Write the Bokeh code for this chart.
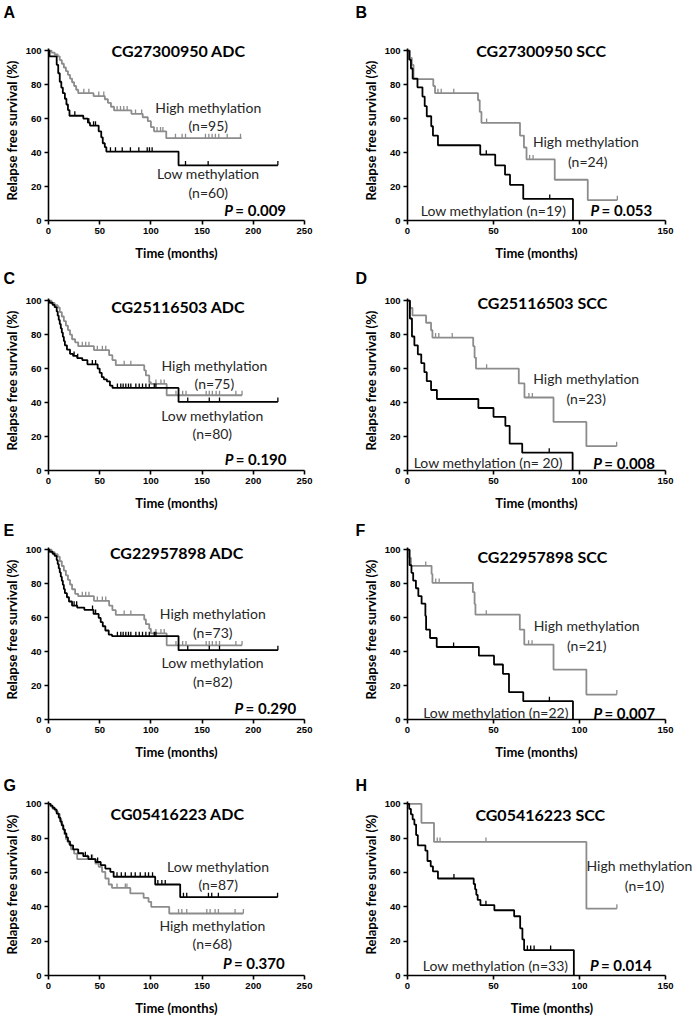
from bokeh.plotting import figure
from bokeh.models import Range1d, Label, FixedTicker
from bokeh.layouts import column, row
from bokeh.embed import file_html
from bokeh.resources import INLINE

# ---------------- data ----------------
# Panel A  CG27300950 ADC
a_low_t = [1, 8, 9.5, 11, 12.5, 14, 16, 17.5, 19, 20.5, 34, 38.5, 40.5, 49, 51.5, 53, 55, 56.5, 127]
a_low_s = [96.7, 91.7, 86.7, 81.7, 78.3, 75, 71.7, 68.3, 65, 61.7, 60, 57.6, 55.9, 52.5, 49, 45.5, 43.2, 40.6, 32.5]
a_low_c = [25.7, 39.4, 44, 45.9, 60.5, 65.4, 72, 80, 88.2, 96.4, 98.6, 101.2, 133.8, 155.9, 224]
a_low_end = 224
a_high_t = [3, 6, 9, 11, 13, 15, 17, 19, 21, 23, 25, 27, 29, 44, 55, 58, 61, 64, 81, 92, 97, 100, 103, 115]
a_high_s = [98.9, 97.8, 96.7, 94.5, 92.3, 90.1, 88, 85.8, 83.6, 81.4, 79.2, 77, 75, 73.3, 71.4, 69.3, 67, 64.8, 62.8, 60.8, 58.5, 55, 52.5, 48.5]
a_high_c = [34.5, 39.4, 49.1, 54, 67, 70.3, 73.5, 76.8, 85, 91, 106, 109.4, 111.7, 124, 130.5, 133.8, 153.3, 156.6, 159.8, 163, 166.3, 174.5, 187.5]
a_high_end = 188.5

# Panel B  CG27300950 SCC
b_low_t = [1, 2, 3, 5.8, 8.7, 10, 11.2, 13.8, 14.8, 17.7, 42.3, 51, 56.7, 59.6, 67.3, 96.2]
b_low_s = [94.7, 89.5, 83.5, 78.4, 73, 67.3, 61.4, 55.5, 50, 44.3, 38.8, 32.5, 27, 21, 12.7, 0]
b_low_c = [45.8, 82.7]
b_low_end = 96.2
b_high_t = [1.5, 2.5, 3.5, 15, 16, 41, 42, 43, 65.4, 67.7, 69.2, 85.6, 104.8]
b_high_s = [95.8, 91.7, 83.3, 79.2, 75, 70.8, 64, 57.5, 50, 43, 36, 24, 12]
b_high_c = [17.7, 19.6, 26.9, 46, 71, 73, 122]
b_high_end = 122

# Panel C  CG25116503 ADC
c_low_t = [1, 4, 6, 8, 9, 10, 11, 12, 13, 14, 15, 16, 18, 21, 24, 28, 33, 38, 48, 50, 52, 54, 57, 60, 62.5, 127]
c_low_s = [98.8, 97.5, 96.2, 93.7, 91.2, 88.7, 86.2, 83.7, 81.2, 78.7, 76.2, 73.7, 71.2, 68.7, 67.5, 66.2, 65, 62.5, 60, 57.5, 55, 53.7, 52.5, 50, 48.6, 40.4]
c_low_c = [25, 28.5, 42.8, 46, 67.3, 70.6, 72.9, 75.5, 78.1, 80.4, 85.3, 88.6, 91.8, 95.1, 98.4, 103.3, 104.9, 136, 157, 167, 224]
c_low_end = 224
c_high_t = [3, 6, 9, 11, 13, 15, 17, 19, 21, 23, 26, 29, 44.4, 59.2, 62.4, 65.7, 93.5, 95.1, 98.4, 100, 115.4]
c_high_s = [98.7, 97.3, 96, 93.3, 90.7, 88, 85.3, 82.7, 80, 77.3, 75.5, 73.2, 70.9, 67.9, 65, 62, 59, 56, 52, 51, 44.3]
c_high_c = [33, 36.3, 39.5, 47.7, 52.6, 55.9, 73.9, 80.4, 104.9, 109.8, 113, 124.5, 131, 134.3, 154, 157, 160, 163.7, 167, 183, 189]
c_high_end = 189

# Panel D  CG25116503 SCC
d_low_t = [1.4, 2.6, 4, 6, 8, 9.8, 11.2, 13.7, 17.1, 41.2, 50, 56.9, 59.4, 66.7, 96]
d_low_s = [89.5, 78.9, 73.7, 68.4, 63.2, 57.9, 52.6, 47.4, 42.1, 36.8, 31.6, 26.3, 15.8, 10.5, 0]
d_low_c = [82.4]
d_low_end = 96
d_high_t = [1.5, 2.9, 10.8, 13.7, 14.5, 38.2, 39, 39.8, 64.7, 68, 84.9, 104]
d_high_s = [95.7, 91.3, 87, 82.6, 78.3, 73.2, 66.5, 60, 51.3, 43, 28.6, 14.3]
d_high_c = [16.3, 18.2, 26, 46, 70.6, 72.6, 121.6]
d_high_end = 121.6

# Panel E  CG22957898 ADC
e_low_t = [1, 4, 6, 8, 9, 10, 11, 12, 13, 14, 15, 16, 18, 20, 23, 28, 35, 44, 49, 51, 53, 55.5, 58.8, 62, 127]
e_low_s = [98.8, 97.6, 96.3, 93.9, 91.5, 89, 86.6, 84.1, 81.7, 79.3, 76.8, 74.4, 72, 69.5, 67.1, 65.9, 64.6, 62.2, 59.8, 57.3, 54.9, 52.4, 50, 49.1, 40.8]
e_low_c = [25, 27.5, 43, 46, 67.3, 70.6, 72.9, 75.5, 78.1, 80.4, 85.3, 88.6, 91.8, 95.1, 98.4, 103.3, 104.9, 136, 157, 167, 224]
e_low_end = 224
e_high_t = [3, 6, 9, 11, 13, 15, 17, 19, 21, 23, 26, 29, 44.4, 59.2, 62.4, 65.7, 93.5, 95.1, 98.4, 100, 115.4]
e_high_s = [98.6, 97.3, 95.9, 93.2, 90.4, 87.7, 84.9, 82.2, 79.5, 76.7, 74, 72.6, 69.9, 67.1, 64.4, 61.6, 58.9, 56.2, 53.4, 50.7, 43.7]
e_high_c = [33, 36.3, 39.5, 47.7, 52.6, 55.9, 73.9, 80.4, 104.9, 109.8, 113, 124.5, 131, 134.3, 154, 157, 160, 163.7, 167, 183, 189]
e_high_end = 189

# Panel F  CG22957898 SCC
f_low_t = [1.2, 2.3, 3.3, 4.9, 6.3, 8.2, 10.4, 10.8, 13.1, 17, 41.5, 50.3, 55.5, 59, 67.3, 96.2]
f_low_s = [90.9, 86.4, 81.8, 77.3, 72.7, 68.2, 61, 52.9, 48, 42.7, 37.6, 32.4, 26.9, 16.1, 10.8, 0]
f_low_c = [26.8, 82.5]
f_low_end = 96.2
f_high_t = [1, 2, 14, 14.5, 38, 39, 39.5, 65.3, 67.9, 84.9, 104]
f_high_s = [95.2, 90.5, 85.7, 80.5, 75, 68, 61.8, 52.9, 44.1, 29.4, 14.7]
f_high_c = [10.6, 16.4, 18.4, 45.8, 70.4, 72.4, 121.7]
f_high_end = 121.7

# Panel G  CG05416223 ADC
g_low_t = [2, 4, 6, 8, 10, 11.5, 13, 14.5, 16, 17.5, 19, 21, 24, 29, 34, 39, 46, 51, 55.5, 60.4, 63.6, 104.2, 128.6]
g_low_s = [98.9, 97.7, 96.6, 94.3, 92, 89.7, 87.4, 85, 82.7, 80.4, 78.1, 75.8, 73.5, 71.2, 69.5, 67.8, 66.1, 64.3, 62.3, 60.4, 57.5, 53, 45.6]
g_low_c = [36, 42, 48, 66.9, 71.1, 75, 80.8, 84.7, 89.6, 94.5, 97.7, 101.6, 106.8, 110.7, 114, 131.8, 135, 156.2, 159.4, 165.9, 223.7]
g_low_end = 223.7
g_high_t = [2, 4, 7, 9, 11, 12.5, 14, 15.5, 17, 18.5, 20, 22, 25, 28, 45.8, 49, 52.3, 55.5, 58.8, 62, 79.9, 92.9, 97.7, 100.3, 117.9]
g_high_s = [98.5, 97.1, 95.6, 94.1, 91.2, 88.2, 85.3, 82.4, 79.4, 77.9, 76.5, 73.5, 71, 67.8, 65.2, 63.3, 60.4, 56.5, 53, 51, 47.8, 45.2, 42.9, 40, 36.1]
g_high_c = [38, 43, 66.9, 75, 76.6, 127, 130.2, 135, 154.6, 157.8, 162.7, 165.9, 182.2, 190.3]
g_high_end = 190.3

# Panel H  CG05416223 SCC
h_low_t = [1, 2, 3, 4, 5, 6, 10.4, 11.6, 13.5, 14.8, 17.7, 38.5, 39.3, 40, 40.8, 42.4, 50.5, 62, 65.5, 66.8, 67.8, 96.7]
h_low_s = [97, 93.9, 90.9, 87.9, 81.8, 75.8, 72.7, 66.7, 63.6, 60.6, 56.5, 53.3, 50.2, 47, 44, 41, 38, 34.5, 27.5, 21, 14.8, 0]
h_low_c = [27, 45.6, 69.7, 71.6, 73.6, 83.2]
h_low_end = 96.7
h_high_t = [8.1, 15.4, 104]
h_high_s = [88.9, 77.8, 38.9]
h_high_c = [17.3, 18.9, 45.6, 121.7]
h_high_end = 121.7

letters = ["A", "B", "C", "D", "E", "F", "G", "H"]
titles = ["CG27300950 ADC", "CG27300950 SCC", "CG25116503 ADC", "CG25116503 SCC",
          "CG22957898 ADC", "CG22957898 SCC", "CG05416223 ADC", "CG05416223 SCC"]
p_values = ["= 0.009", "= 0.053", "= 0.190", "= 0.008", "= 0.290", "= 0.007", "= 0.370", "= 0.014"]
ticks_adc = [0, 50, 100, 150, 200, 250]
ticks_scc = [0, 50, 100, 150]
ticks_y = [0, 20, 40, 60, 80, 100]

BLACK = "#000000"
GRAY = "#8c8c8c"
TXT = "#262626"
PAGE_W = 698


def km_xy(times, levels, end):
    xs = [0] + list(times)
    ys = [100] + list(levels)
    if end > xs[-1]:
        xs.append(end)
        ys.append(ys[-1])
    return xs, ys


def level_at(times, levels, t):
    s = 100
    for ti, si in zip(times, levels):
        if ti <= t:
            s = si
    return s


def make_fig(xmax, xview, xticks, w, h, bl, br, bt, bb):
    p = figure(width=w, height=h, x_range=Range1d(0, xview), y_range=Range1d(0, 106),
               output_backend="svg", toolbar_location=None, title=None,
               min_border_left=bl, min_border_right=br, min_border_top=bt, min_border_bottom=bb)
    p.outline_line_color = None
    p.grid.visible = False
    p.background_fill_color = "white"
    p.border_fill_color = "white"
    p.xaxis.ticker = FixedTicker(ticks=xticks)
    p.yaxis.ticker = FixedTicker(ticks=ticks_y)
    p.xaxis.bounds = (0, xmax)
    p.yaxis.bounds = (0, 101.5)
    p.xaxis.axis_label = "Time (months)"
    p.yaxis.axis_label = "Relapse free survival (%)"
    for ax in p.axis:
        ax.axis_line_color = "black"
        ax.axis_line_width = 1.6
        ax.major_tick_line_color = "black"
        ax.major_tick_line_width = 1.6
        ax.major_tick_out = 4
        ax.major_tick_in = 0
        ax.minor_tick_line_color = None
        ax.major_label_text_font = "Liberation Sans"
        ax.major_label_text_font_style = "bold"
        ax.major_label_text_font_size = "9.5px"
        ax.major_label_text_color = "black"
        ax.major_label_standoff = 3
        ax.axis_label_text_font = "Lato"
        ax.axis_label_text_font_style = "bold"
        ax.axis_label_text_font_size = "13px"
        ax.axis_label_text_color = "black"
    p.xaxis.axis_label_standoff = 8
    p.yaxis.axis_label_standoff = 3
    return p


def make_strip(h, left_letter, right_letter, base_y):
    s = figure(width=PAGE_W, height=h, x_range=Range1d(0, PAGE_W), y_range=Range1d(0, h),
               output_backend="svg", toolbar_location=None, title=None,
               x_axis_location=None, y_axis_location=None,
               min_border_left=0, min_border_right=0, min_border_top=0, min_border_bottom=0)
    s.outline_line_color = None
    s.grid.visible = False
    for txt, x in ((left_letter, 3), (right_letter, 355)):
        s.add_layout(Label(x=x, y=base_y, text=txt, text_font="Liberation Sans",
                           text_font_size="16px", text_font_style="bold",
                           text_align="left", text_baseline="alphabetic", text_color="black"))
    return s


def draw_curve(p, t, s, c, end, color):
    xs, ys = km_xy(t, s, end)
    p.step(xs, ys, mode="after", line_color=color, line_width=1.8)
    lv = [level_at(t, s, ci) for ci in c]
    p.segment(x0=c, y0=lv, x1=c, y1=[v + 2.6 for v in lv], line_color=color, line_width=1.3)


def lab(p, x, y, text, size="14px", style="normal", align="center", base="middle",
        font="Lato", color=TXT, xoff=0):
    p.add_layout(Label(x=x, y=y, text=text, text_font=font, text_font_size=size,
                       text_font_style=style, text_align=align, text_baseline=base,
                       text_color=color, x_offset=xoff))


curves = [
    (a_low_t, a_low_s, a_low_c, a_low_end, a_high_t, a_high_s, a_high_c, a_high_end),
    (b_low_t, b_low_s, b_low_c, b_low_end, b_high_t, b_high_s, b_high_c, b_high_end),
    (c_low_t, c_low_s, c_low_c, c_low_end, c_high_t, c_high_s, c_high_c, c_high_end),
    (d_low_t, d_low_s, d_low_c, d_low_end, d_high_t, d_high_s, d_high_c, d_high_end),
    (e_low_t, e_low_s, e_low_c, e_low_end, e_high_t, e_high_s, e_high_c, e_high_end),
    (f_low_t, f_low_s, f_low_c, f_low_end, f_high_t, f_high_s, f_high_c, f_high_end),
    (g_low_t, g_low_s, g_low_c, g_low_end, g_high_t, g_high_s, g_high_c, g_high_end),
    (h_low_t, h_low_s, h_low_c, h_low_end, h_high_t, h_high_s, h_high_c, h_high_end),
]

# per row: (figure height, top border, bottom border)
row_dims = [(236, 10, 46), (230, 4, 46), (227, 1, 46), (228, 0, 46)]
# letter strips above each row: (height, baseline y)
strip_dims = [(30, 18), (20, 8), (22, 8), (28, 8)]
title_pos = [(127, 100), (77.7, 100), (126.6, 96.5), (78.4, 98.8),
             (125.4, 98.2), (78.4, 95.9), (126, 94.4), (77.2, 94)]
p_pos = [(232, 5.9), (142.3, 5.9), (232.4, 7), (143.9, 4.7),
         (242, 6.5), (144, 4.1), (230.6, 7), (141.9, 6)]
group_labels = [
    [("High methylation", 156, 66.5), ("(n=95)", 156, 55.9),
     ("Low methylation", 156, 27.6), ("(n=60)", 156, 16.5)],
    [("High methylation", 103.7, 46.5), ("(n=24)", 104.8, 34.7),
     ("Low methylation (n=19)", 50, 5.9)],
    [("High methylation", 162, 62), ("(n=75)", 162, 51.4),
     ("Low methylation", 160, 32.5), ("(n=80)", 160, 21.9)],
    [("High methylation", 103.9, 54.4), ("(n=23)", 103.9, 42.6),
     ("Low methylation (n= 20)", 46.9, 4.7)],
    [("High methylation", 160.4, 62.4), ("(n=73)", 160.4, 51.2),
     ("Low methylation", 160.4, 33.5), ("(n=82)", 160.4, 22.4)],
    [("High methylation", 104.2, 55.3), ("(n=21)", 104.2, 43.5),
     ("Low methylation (n=22)", 51.4, 4.1)],
    [("Low methylation", 165.7, 63.5), ("(n=87)", 165.7, 53),
     ("High methylation", 160, 29.2), ("(n=68)", 160, 18.7)],
    [("High methylation", 134.8, 64.3), ("(n=10)", 137.8, 52.6),
     ("Low methylation (n=33)", 51.2, 6)],
]

figs = []
for i in range(8):
    left = (i % 2 == 0)
    h, bt, bb = row_dims[i // 2]
    if left:
        p = make_fig(250, 250, ticks_adc, 350, h, 47, 46, bt, bb)
    elif i == 7:
        # wider view so the long label fits; the axis itself stops at 150
        p = make_fig(150, 168, ticks_scc, PAGE_W - 350, h, 57, 2, bt, bb)
    else:
        p = make_fig(150, 150, ticks_scc, PAGE_W - 350, h, 57, 33, bt, bb)

    lt, ls, lc, le, ht, hs, hc, he = curves[i]
    draw_curve(p, ht, hs, hc, he, GRAY)
    draw_curve(p, lt, ls, lc, le, BLACK)
    lab(p, title_pos[i][0], title_pos[i][1], titles[i], size="16px", style="bold", color="black")
    for txt, x, y in group_labels[i]:
        lab(p, x, y, txt, size="14px")
    px, py = p_pos[i]
    lab(p, px, py, p_values[i], size="15px", style="bold", align="right", color="black")
    lab(p, px, py, "P", size="15px", style="bold italic", align="right", color="black", xoff=-53)
    figs.append(p)

items = []
for r in range(4):
    sh, sb = strip_dims[r]
    items.append(make_strip(sh, letters[2 * r], letters[2 * r + 1], sb))
    items.append(row(figs[2 * r], figs[2 * r + 1]))

layout = column(*items)

open("out.html", "w").write(file_html(layout, INLINE))
